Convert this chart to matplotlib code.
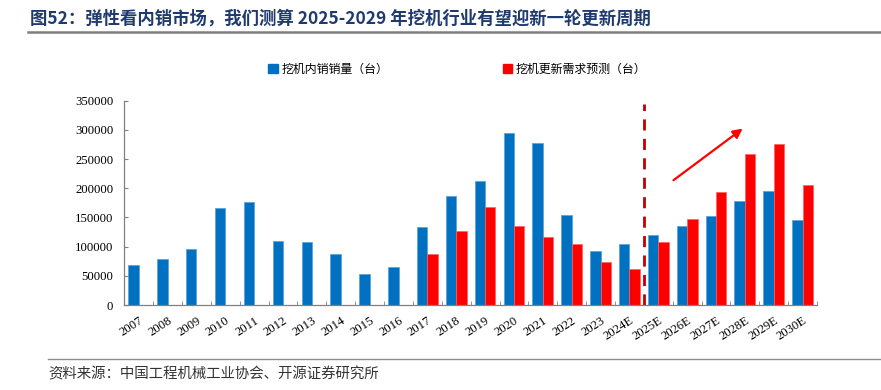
import numpy as np
import matplotlib
matplotlib.use("Agg")
import matplotlib.pyplot as plt
from matplotlib.patches import Patch
from matplotlib.lines import Line2D

plt.rcParams['font.family'] = ['Noto Sans CJK SC', 'DejaVu Sans']

years = ["2007", "2008", "2009", "2010", "2011", "2012", "2013", "2014", "2015",
         "2016", "2017", "2018", "2019", "2020", "2021", "2022", "2023", "2024E",
         "2025E", "2026E", "2027E", "2028E", "2029E", "2030E"]
domestic = [68500, 79000, 95500, 166500, 176500, 110000, 107500, 87500, 53000,
            65500, 133500, 186500, 212000, 295500, 277000, 154500, 92500, 105000,
            120500, 135000, 153000, 177500, 195000, 145500]
renewal = [None] * 10 + [87500, 126500, 167500, 136000, 116500, 104500, 73500, 62500,
                         108000, 148000, 193500, 258500, 276000, 205000]

name_dom = "挖机内销销量（台）"
name_ren = "挖机更新需求预测（台）"
title = "图52：弹性看内销市场，我们测算 2025-2029 年挖机行业有望迎新一轮更新周期"
source = "资料来源：中国工程机械工业协会、开源证券研究所"

blue = "#0070C0"
red = "#FF0000"
serif = ["Liberation Serif", "DejaVu Serif"]

fig = plt.figure(figsize=(8.81, 3.90), dpi=100)
ax = fig.add_axes([0.1411, 0.2179, 0.7863, 0.5239])

x = np.arange(len(years))
w = 0.36
ax.bar(x - w / 2, domestic, width=w, color=blue, edgecolor="#5EA3DA", linewidth=0.6)
xr = [i for i, v in enumerate(renewal) if v is not None]
vr = [v for v in renewal if v is not None]
ax.bar(np.array(xr) + w / 2, vr, width=w, color=red, edgecolor="#FF6060", linewidth=0.5)

ax.set_xlim(-0.5, len(years) - 0.5)
ax.set_ylim(0, 350000)
ax.set_yticks(np.arange(0, 350001, 50000))
ax.set_yticklabels([str(v) for v in range(0, 350001, 50000)], family=serif, fontsize=9.2)

ax.set_xticks(x)
ax.set_xticklabels(years, rotation=33, ha="right", rotation_mode="anchor",
                   family=serif, fontsize=9.2)
ax.tick_params(axis="x", length=0, pad=7)
ax.set_xticks(np.arange(-0.5, len(years), 1), minor=True)
ax.tick_params(axis="x", which="minor", length=3, direction="in", color="#808080")
ax.tick_params(axis="y", length=3, direction="in", color="#808080", pad=8)

for s in ["top", "right"]:
    ax.spines[s].set_visible(False)
for s in ["left", "bottom"]:
    ax.spines[s].set_color("#808080")
    ax.spines[s].set_linewidth(0.9)

# forecast divider and trend arrow
ax.plot([17.5, 17.5], [0, 344000], color="#C00000", linestyle=(0, (4, 3)), linewidth=2,
        clip_on=False)
ax.annotate("", xy=(21.0, 305000), xytext=(18.45, 211000),
            arrowprops=dict(arrowstyle="-|>", color=red, lw=1.6, mutation_scale=14),
            annotation_clip=False)

handles = [Patch(facecolor=blue, edgecolor=blue), Patch(facecolor=red, edgecolor=red)]
fig.legend(handles, [name_dom, name_ren], loc="center left", bbox_to_anchor=(0.292, 0.823),
           ncol=2, frameon=False, fontsize=8.6, handlelength=0.8, handleheight=0.8,
           handletextpad=0.3, columnspacing=9.6)

fig.text(0.034, 0.953, title, fontsize=12.5, fontweight="bold", color="#1F3A6E",
         va="center", ha="left")
fig.add_artist(Line2D([0.032, 1.0], [0.918, 0.918], transform=fig.transFigure,
                      color="#7F7F7F", linewidth=1.8))
fig.add_artist(Line2D([0.054, 1.0], [0.079, 0.079], transform=fig.transFigure,
                      color="#8C8C8C", linewidth=1.0))
fig.text(0.055, 0.041, source, fontsize=10.4, color="#333333", va="center", ha="left")

fig.savefig("out.png", dpi=100)
